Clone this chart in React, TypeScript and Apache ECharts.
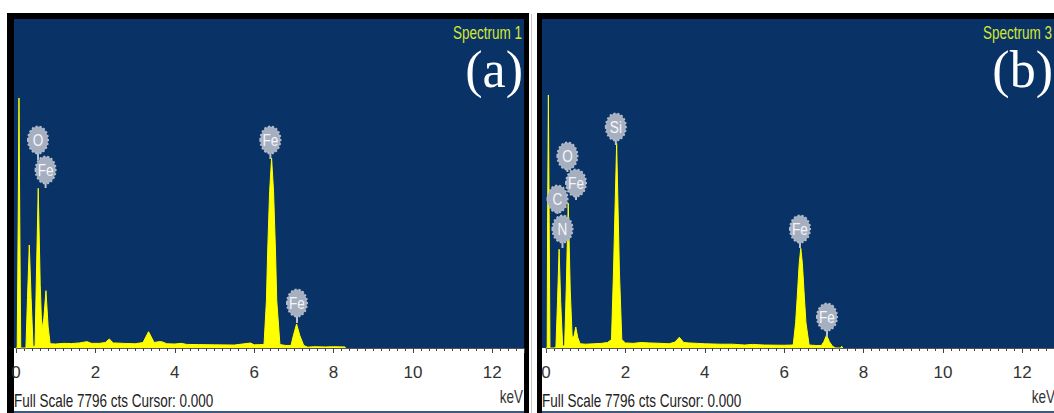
import React, { useEffect, useRef } from "react";
import * as echarts from "echarts";

// ---- data (keV, counts) ----
const FULL_SCALE = 7796;
const xTicks = [0, 2, 4, 6, 8, 10, 12];

const specA: number[][] = [
  [0, 0], [0.03, 0], [0.055, 3000], [0.075, 5925], [0.095, 3000], [0.12, 0], [0.2, 0],
  [0.25, 0], [0.29, 1200], [0.335, 2441], [0.38, 1200], [0.43, 30],
  [0.48, 50], [0.51, 1500], [0.56, 3785], [0.61, 1500], [0.65, 427], [0.7, 700], [0.755, 1358], [0.81, 500], [0.86, 100],
  [1.0, 95], [1.2, 110], [1.4, 105], [1.6, 120], [1.79, 150], [1.9, 110], [2.1, 110], [2.25, 130], [2.35, 213], [2.45, 120],
  [2.7, 110], [3.0, 100], [3.2, 130], [3.34, 386], [3.48, 130], [3.6, 150], [3.67, 150], [3.8, 100], [4.0, 95], [4.17, 110],
  [4.3, 85], [4.6, 80], [5.0, 75], [5.5, 70], [5.91, 118], [6.0, 75], [6.2, 80],
  [6.25, 90], [6.31, 1125], [6.34, 2250], [6.39, 3700], [6.44, 4503], [6.49, 3700], [6.54, 2250], [6.57, 1125], [6.65, 80], [6.8, 60],
  [6.93, 60], [6.99, 300], [7.07, 569], [7.15, 300], [7.25, 60], [7.35, 20], [7.5, 30], [7.8, 25], [8.0, 30], [8.29, 25], [8.3, 0],
];

const specB: number[][] = [
  [0, 0], [0.03, 0], [0.04, 3000], [0.06, 5996], [0.08, 3000], [0.1, 0], [0.2, 0],
  [0.25, 20], [0.29, 1100], [0.33, 2339], [0.37, 1100], [0.42, 40],
  [0.47, 60], [0.51, 1400], [0.56, 3429], [0.61, 1400], [0.66, 237], [0.71, 300], [0.75, 498], [0.8, 250], [0.86, 100],
  [1.0, 90], [1.2, 100], [1.4, 110], [1.55, 130], [1.65, 200], [1.7, 1800], [1.78, 4851], [1.85, 1800], [1.91, 200],
  [2.0, 120], [2.2, 110], [2.4, 130], [2.6, 120], [2.9, 110], [3.1, 100], [3.25, 140], [3.36, 254], [3.47, 130],
  [3.6, 120], [3.8, 110], [4.0, 100], [4.4, 90], [4.7, 90], [5.0, 70], [5.2, 85], [5.5, 70], [6.0, 65], [6.2, 70],
  [6.23, 80], [6.29, 600], [6.33, 1200], [6.38, 2000], [6.42, 2363], [6.46, 2000], [6.51, 1200], [6.55, 600], [6.63, 70], [6.8, 60],
  [6.94, 60], [7.0, 150], [7.07, 308], [7.14, 150], [7.22, 40], [7.3, 0], [7.42, 0], [7.45, 40], [7.48, 0],
];

// element badges: name, keV, badge centre (counts), stem end (counts)
const badgeNamesA = ["O", "Fe", "Fe", "Fe"];
const badgeKeVA = [0.554, 0.746, 6.41, 7.08];
const badgeCtsA = [4930, 4219, 4930, 1067];
const badgeStemA = [4456, 3792, 4479, 593];

const badgeNamesB = ["Si", "O", "Fe", "C", "N", "Fe", "Fe"];
const badgeKeVB = [1.76, 0.54, 0.756, 0.29, 0.416, 6.4, 7.08];
const badgeCtsB = [5238, 4550, 3911, 3531, 2820, 2820, 735];
const badgeStemB = [4811, 4171, 3508, 3176, 2370, 2370, 261];

const spectrumTitles = ["Spectrum 1", "Spectrum 3"];
const panelTags = ["(a)", "(b)"];
const footerText = "Full Scale 7796 cts Cursor: 0.000";
const unitText = "keV";

const SANS = "'Liberation Sans', Arial, sans-serif";
const SERIF = "'Liberation Serif', 'Times New Roman', serif";
const BLUE = "#093366";
const YELLOW = "#ffff00";
const NARROW_SCALE = 0.75;

function badgeSeries(gridIndex: number, names: string[], kev: number[], cts: number[], stem: number[]) {
  const data = kev.map((k, i) => [k, cts[i], stem[i]]);
  return {
    type: "custom",
    xAxisIndex: gridIndex,
    yAxisIndex: gridIndex,
    z: 10,
    data,
    renderItem: (params: any, api: any) => {
      const c = api.coord([api.value(0), api.value(1)]);
      const s = api.coord([api.value(0), api.value(2)]);
      return {
        type: "group",
        children: [
          {
            type: "line",
            shape: { x1: c[0], y1: c[1] + 12, x2: c[0], y2: s[1] },
            style: { stroke: "#b9c1ce", lineWidth: 2 },
          },
          {
            type: "ellipse",
            shape: { cx: c[0], cy: c[1], rx: 10, ry: 13.5 },
            style: { fill: "#a6afc0", stroke: "#b4bccb", lineWidth: 2, lineDash: [2, 2] },
          },
          {
            type: "text",
            x: c[0],
            y: c[1],
            scaleX: 0.8,
            style: {
              text: names[params.dataIndex],
              x: 0,
              y: 0,
              align: "center",
              verticalAlign: "middle",
              fill: "#f4f6fa",
              fontSize: 17,
              fontFamily: SANS,
            },
          },
        ],
      };
    },
  };
}

function spectrumSeries(gridIndex: number, data: number[][]) {
  return {
    type: "line",
    xAxisIndex: gridIndex,
    yAxisIndex: gridIndex,
    data,
    showSymbol: false,
    symbol: "none",
    lineStyle: { color: YELLOW, width: 1 },
    areaStyle: { color: YELLOW, opacity: 1 },
    z: 5,
  };
}

function xAxis(gridIndex: number) {
  return {
    type: "value",
    gridIndex,
    min: 0,
    max: 12.8,
    interval: 2,
    splitLine: { show: false },
    axisLine: { show: true, lineStyle: { color: "#555", width: 1 } },
    axisTick: { show: true, length: 5, lineStyle: { color: "#444" } },
    minorTick: { show: true, splitNumber: 10, length: 3, lineStyle: { color: "#444" } },
    axisLabel: {
      show: true,
      margin: 16,
      color: "#333",
      fontSize: 17,
      fontFamily: SANS,
      showMaxLabel: false,
      formatter: (v: number) => (xTicks.includes(v) ? String(v) : ""),
    },
  };
}

function yAxis(gridIndex: number) {
  return {
    type: "value",
    gridIndex,
    min: 0,
    max: FULL_SCALE,
    show: false,
    splitLine: { show: false },
  };
}

function narrowText(text: string, x: number, y: number, align: string, fill: string, size: number) {
  return {
    type: "text",
    z: 20,
    x,
    y,
    scaleX: NARROW_SCALE,
    style: { text, x: 0, y: 0, align, verticalAlign: "middle", fill, fontSize: size, fontFamily: SANS },
  };
}

function panelGraphics(left: number, right: number, frameLeft: number, frameRight: number, idx: number, tagRight: number, unitRight: number) {
  return [
    { type: "rect", z: -10, shape: { x: frameLeft, y: 13, width: frameRight - frameLeft, height: 400 }, style: { fill: "#000" } },
    { type: "rect", z: -9, shape: { x: left, y: 19, width: right - left, height: 329 }, style: { fill: BLUE } },
    { type: "rect", z: -9, shape: { x: left, y: 348, width: right - left, height: 63 }, style: { fill: "#fff" } },
    { type: "rect", z: -9, shape: { x: left, y: 411, width: right - left, height: 2 }, style: { fill: "#3c5a80" } },
    narrowText(spectrumTitles[idx], right - 2, 33, "right", "#d6e830", 18),
    {
      type: "text",
      z: 20,
      style: { text: panelTags[idx], x: tagRight, y: 69, align: "right", verticalAlign: "middle", fill: "#ffffff", fontSize: 52, fontFamily: SERIF },
    },
    narrowText(footerText, left, 401, "left", "#222", 18),
    narrowText(unitText, unitRight, 397, "right", "#333", 18),
  ];
}

export default function App() {
  const ref = useRef<HTMLDivElement>(null);
  useEffect(() => {
    if (!ref.current) return;
    const chart = echarts.init(ref.current, null, { renderer: "svg" });
    chart.setOption({
      animation: false,
      backgroundColor: "#ffffff",
      grid: [
        { left: 16, right: 1054 - 524, top: 19, bottom: 413 - 348, containLabel: false },
        { left: 546, right: 0, top: 19, bottom: 413 - 348, containLabel: false },
      ],
      xAxis: [xAxis(0), xAxis(1)],
      yAxis: [yAxis(0), yAxis(1)],
      graphic: [
        ...panelGraphics(14, 524, 7, 529, 0, 523, 523),
        ...panelGraphics(542, 1054, 537, 1054, 1, 1053, 1055),
        { type: "rect", z: -9, shape: { x: 531, y: 14, width: 1, height: 399 }, style: { fill: "#c8c8c8" } },
      ],
      series: [
        spectrumSeries(0, specA),
        spectrumSeries(1, specB),
        badgeSeries(0, badgeNamesA, badgeKeVA, badgeCtsA, badgeStemA),
        badgeSeries(1, badgeNamesB, badgeKeVB, badgeCtsB, badgeStemB),
      ],
    });
    return () => chart.dispose();
  }, []);
  return <div ref={ref} style={{ position: "absolute", left: 0, top: 0, width: 1054, height: 413 }} />;
}
